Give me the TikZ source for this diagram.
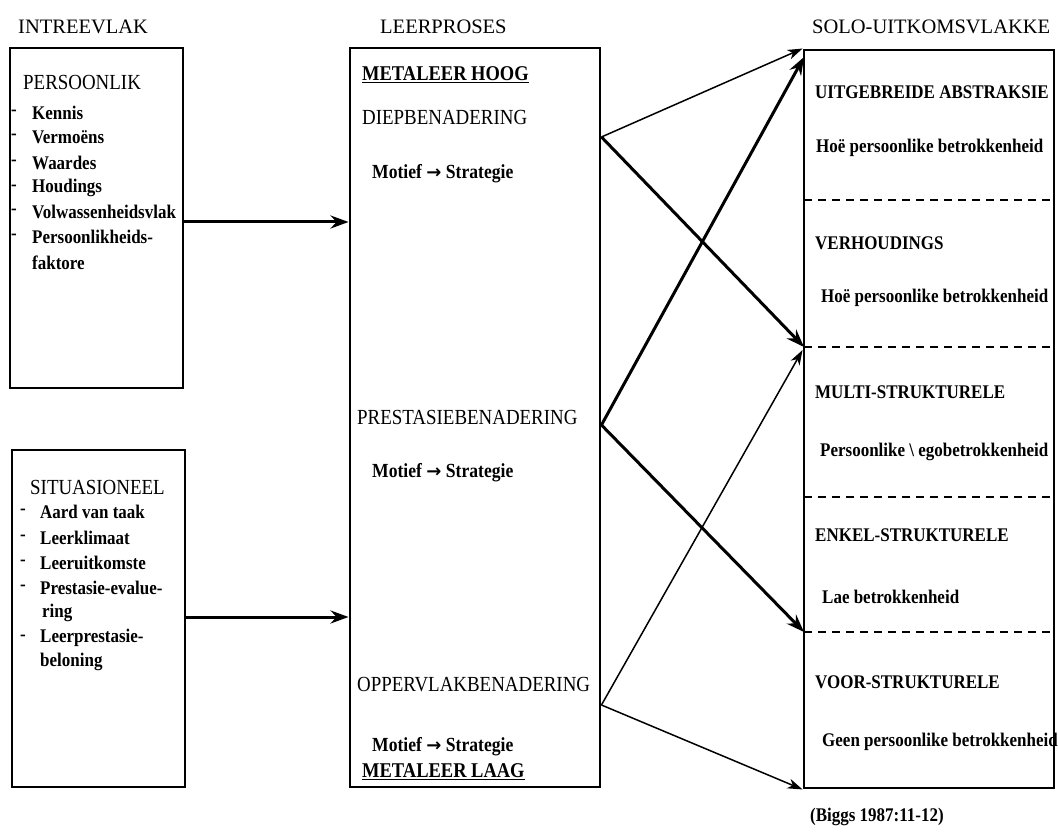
\documentclass[tikz,border=0pt]{standalone}
\usepackage{fontspec}
\setmainfont{Liberation Serif}
\newfontfamily\condserif{Liberation Serif}[FakeStretch=0.88]
\newfontfamily\arrowfont{DejaVu Sans}
\usetikzlibrary{arrows.meta}
\newcommand\mtarrow{\hspace{0.22em}{\arrowfont\bfseries\fontsize{18}{18}\selectfont →}\hspace{0.22em}}
\begin{document}
\begin{tikzpicture}[x=1pt,y=-1pt,
  box/.style={draw, line width=2.9pt, inner sep=0},
  head/.style={font=\fontsize{20.5}{22}\selectfont, anchor=west, inner sep=0},
  capr/.style={font=\condserif\fontsize{21.5}{22}\selectfont, anchor=west, inner sep=0},
  capb/.style={font=\condserif\bfseries\fontsize{19.3}{20}\selectfont, anchor=west, inner sep=0},
  meta/.style={font=\condserif\bfseries\fontsize{21}{22}\selectfont, anchor=west, inner sep=0},
  itm/.style={font=\condserif\bfseries\fontsize{19.3}{20}\selectfont, anchor=west, inner sep=0},
  mot/.style={font=\condserif\bfseries\fontsize{20}{20}\selectfont, anchor=west, inner sep=0},
  divider/.style={line width=1.5pt, dash pattern=on 8pt off 6pt},
  fat/.style={line width=3pt, -{Stealth[length=18pt,width=13pt,inset=6pt]}},
  slim/.style={line width=1.5pt, -{Stealth[length=15pt,width=10pt,inset=4.5pt]}}]
\useasboundingbox (0,0) rectangle (1058,834);

% column headings
\node[head] (h1) at (18,27) {INTREEVLAK};
\node[head] (h2) at (380,27) {LEERPROSES};
\node[head] (h3) at (812,27) {SOLO-UITKOMSVLAKKE};

% boxes
\node[box, minimum width=173pt, minimum height=340pt] (pers) at (96.5,218) {};
\node[box, minimum width=173pt, minimum height=337pt] (sit) at (98.5,618.5) {};
\node[box, minimum width=250pt, minimum height=739pt] (leer) at (475,417.5) {};
\node[box, minimum width=250pt, minimum height=738pt] (solo) at (929,419) {};

% personal factors
\node[capr] (persT) at (23,82) {PERSOONLIK};
\foreach \t/\y [count=\i] in {Kennis/113, Vermoëns/137, Waardes/163, Houdings/188, Volwassenheidsvlak/212, Persoonlikheids-/237}{
  \node[itm] (pd\i) at (11,\y) {-};
  \node[itm] (pi\i) at (32,\y) {\t};
}
\node[itm] (pi7) at (32,263) {faktore};

% situational factors
\node[capr] (sitT) at (30,487) {SITUASIONEEL};
\foreach \t/\y [count=\i] in {Aard van taak/512, Leerklimaat/538, Leeruitkomste/563, Prestasie-evalue-/588, Leerprestasie-/638}{
  \node[itm] (sd\i) at (20,\y) {-};
  \node[itm] (si\i) at (40,\y) {\t};
}
\node[itm] (sx1) at (42,613) {ring};
\node[itm] (sx2) at (40,662) {beloning};

% learning process
\node[meta] (mh) at (362,75) {\underline{METALEER HOOG}};
\node[capr] (diep) at (362,117) {DIEPBENADERING};
\node[mot] (m1) at (372,174) {Motief\mtarrow Strategie};
\node[capr] (pres) at (357,417) {PRESTASIEBENADERING};
\node[mot] (m2) at (372,473) {Motief\mtarrow Strategie};
\node[capr] (opp) at (357,685) {OPPERVLAKBENADERING};
\node[mot] (m3) at (372,747) {Motief\mtarrow Strategie};
\node[meta] (ml) at (362,772) {\underline{METALEER LAAG}};

% outcome levels
\coordinate (d1) at (804,200);
\coordinate (d2) at (804,347);
\coordinate (d3) at (804,497);
\coordinate (d4) at (804,632);
\foreach \d in {d1,d2,d3,d4}
  \draw[divider] (\d) -- (solo.east |- \d);

\node[capb] (l1) at (815,92) {UITGEBREIDE ABSTRAKSIE};
\node[itm] (b1) at (816,148) {Hoë persoonlike betrokkenheid};
\node[capb] (l2) at (815,243) {VERHOUDINGS};
\node[itm] (b2) at (821,298) {Hoë persoonlike betrokkenheid};
\node[capb] (l3) at (815,392) {MULTI-STRUKTURELE};
\node[itm] (b3) at (820,452) {Persoonlike \textbackslash\ egobetrokkenheid};
\node[capb] (l4) at (815,535) {ENKEL-STRUKTURELE};
\node[itm] (b4) at (822,597) {Lae betrokkenheid};
\node[capb] (l5) at (815,682) {VOOR-STRUKTURELE};
\node[itm] (b5) at (822,742) {Geen persoonlike betrokkenheid};

\node[itm] (src) at (810,817) {(Biggs 1987:11-12)};

% inputs into the learning process
\coordinate (ya) at (0,222);
\coordinate (yb) at (0,617);
\draw[fat] (pers.east |- ya) -- (leer.west |- ya);
\draw[fat] (sit.east |- yb) -- (leer.west |- yb);

% approaches to outcome levels
\coordinate (sd) at (0,137);
\coordinate (sp) at (0,425);
\coordinate (so) at (0,705);
\coordinate (topin) at (804,57);
\draw[slim] (leer.east |- sd) -- (solo.north west);
\draw[fat] (leer.east |- sd) -- (d2);
\draw[fat] (leer.east |- sp) -- (topin);
\draw[fat] (leer.east |- sp) -- (d4);
\draw[slim] (leer.east |- so) -- (solo.west |- 0,350);
\draw[slim] (leer.east |- so) -- (solo.south west);
\end{tikzpicture}
\end{document}
